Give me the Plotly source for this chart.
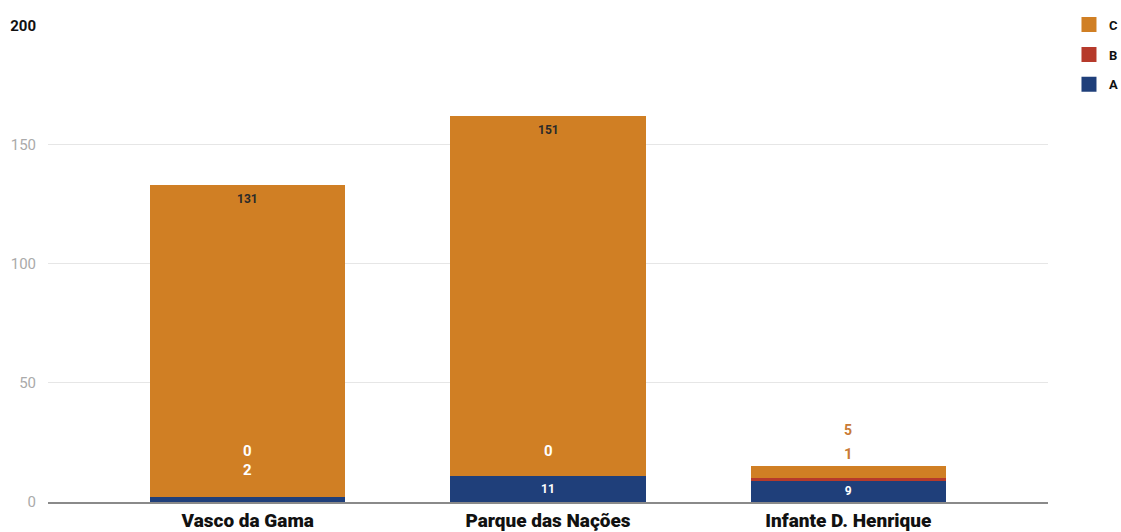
import plotly.graph_objects as go

categories = ["Vasco da Gama", "Parque das Nações", "Infante D. Henrique"]
series_a = [2, 11, 9]
series_b = [0, 0, 1]
series_c = [131, 151, 5]
y_ticks = [0, 50, 100, 150, 200]

COL_A = "#1F3F7A"
COL_B = "#B63A2B"
COL_C = "#D07F24"
FONT = "Roboto"

x_idx = list(range(len(categories)))
fig = go.Figure()

fig.add_trace(go.Bar(
    x=x_idx, y=series_a, name="A", marker=dict(color=COL_A, line=dict(width=0)),
    text=[str(v) for v in series_a],
    textposition=["none" if v < 5 else "inside" for v in series_a],
    insidetextanchor="middle",
    textfont=dict(family=FONT, size=12, color="white", weight="bold"),
    width=0.65, showlegend=False,
))
fig.add_trace(go.Bar(
    x=x_idx, y=series_b, name="B", marker=dict(color=COL_B, line=dict(width=0)),
    textposition="none", width=0.65, showlegend=False,
))
fig.add_trace(go.Bar(
    x=x_idx, y=series_c, name="C", marker=dict(color=COL_C, line=dict(width=0)),
    textposition="none", width=0.65, showlegend=False,
))

# legend entries with larger square swatches
for rank, (nm, col) in enumerate([("C", COL_C), ("B", COL_B), ("A", COL_A)]):
    fig.add_trace(go.Scatter(
        x=[None], y=[None], mode="markers", name=nm,
        marker=dict(symbol="square", size=15, color=col),
        legendrank=rank + 1, legendgroup=nm, hoverinfo="skip",
    ))

annotations = []
shifts = {
    (0, "a"): 27, (0, "b"): 46,
    (1, "b"): 25,
    (2, "b"): 24, (2, "c"): 36,
}
for i in x_idx:
    top_a = series_a[i]
    top_b = series_a[i] + series_b[i]
    top_c = top_b + series_c[i]
    big_c = series_c[i] > 20
    col = "white" if big_c else "#C97A35"
    if series_a[i] < 5:
        annotations.append(dict(x=i, y=top_a, text=str(series_a[i]), showarrow=False,
                                yshift=shifts[(i, "a")], yanchor="middle",
                                font=dict(family=FONT, size=15, color=col, weight="bold")))
    annotations.append(dict(x=i, y=top_b, text=str(series_b[i]), showarrow=False,
                            yshift=shifts[(i, "b")], yanchor="middle",
                            font=dict(family=FONT, size=15, color=col, weight="bold")))
    if big_c:
        annotations.append(dict(x=i, y=top_c, text=str(series_c[i]), showarrow=False,
                                yshift=-14, yanchor="middle",
                                font=dict(family=FONT, size=12, color="#2a2a2a", weight="bold")))
    else:
        annotations.append(dict(x=i, y=top_c, text=str(series_c[i]), showarrow=False,
                                yshift=shifts[(i, "c")], yanchor="middle",
                                font=dict(family=FONT, size=14, color=col, weight="bold")))

tick_text = [("<b>%d</b>" % v) if v == max(y_ticks) else
             ("<span style='color:#aaaaaa'>%d</span>" % v) for v in y_ticks]

fig.update_layout(
    width=1121, height=532,
    barmode="stack",
    plot_bgcolor="white", paper_bgcolor="white",
    margin=dict(l=48, r=73, t=25, b=30),
    font=dict(family=FONT, size=13, color="#111111"),
    annotations=annotations,
    xaxis=dict(
        tickvals=x_idx, ticktext=categories, range=[-0.665, 2.665],
        showgrid=False, showline=True, linecolor="#8a8a8a", linewidth=2,
        ticks="", tickfont=dict(family=FONT, size=19, color="#111111", weight=900),
        ticklabelstandoff=0, automargin=False,
    ),
    yaxis=dict(
        range=[0, 200.3], tickvals=y_ticks, ticktext=tick_text,
        showgrid=True, gridcolor="#e6e6e6", gridwidth=1,
        zeroline=False, showline=False, ticks="",
        tickfont=dict(family=FONT, size=15, color="#111111"),
        ticklabelstandoff=11, automargin=False,
    ),
    legend=dict(
        xref="container", yref="container",
        x=0.9536, y=0.982, xanchor="left", yanchor="top",
        traceorder="grouped", tracegroupgap=10,
        font=dict(family=FONT, size=13, color="#111111", weight="bold"),
        itemwidth=30,
    ),
)

fig.write_html(
    "out.html",
    config={"displayModeBar": False},
    post_script="document.body.style.margin='0';document.body.style.overflow='hidden';",
)
